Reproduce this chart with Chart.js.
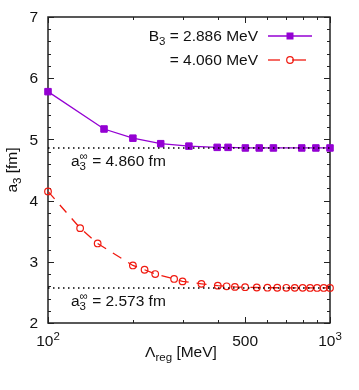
<!DOCTYPE html>
<html>
<head>
<meta charset="utf-8">
<script src="https://cdn.jsdelivr.net/npm/chart.js@4/dist/chart.umd.min.js"></script>
<style>
html, body { margin: 0; padding: 0; background: #fff; }
#wrap { width: 359px; height: 390px; }
</style>
</head>
<body>
<div id="wrap"><canvas id="chart" width="359" height="390"></canvas></div>
<script>
// ---- data ----
const lambdaA = [100, 158, 200, 251, 316, 398, 435, 501, 561, 630, 794, 891, 1000];
const a3A     = [5.78, 5.17, 5.02, 4.93, 4.89, 4.87, 4.87, 4.86, 4.86, 4.86, 4.86, 4.86, 4.86];
const lambdaB = [100, 130, 150, 200, 220, 240, 280, 300, 350, 400, 430, 460, 500,
                 550, 600, 650, 700, 750, 800, 850, 900, 950, 1000];
const a3B     = [4.15, 3.55, 3.30, 2.94, 2.87, 2.80, 2.72, 2.68, 2.64, 2.61, 2.60, 2.59, 2.585,
                 2.58, 2.577, 2.576, 2.575, 2.574, 2.574, 2.573, 2.573, 2.573, 2.573];
const a3InfA = 4.860;
const a3InfB = 2.573;
const binding = ['2.886', '4.060'];

// axis ticks
const yTicks = [2, 3, 4, 5, 6, 7];
const yMinorStep = 0.2;
const xMajor = [100, 500, 1000];
const xMinor = [200, 300, 400, 600, 700, 800, 900];
const xLabels = [['10', '2'], ['500', ''], ['10', '3']];

const PURPLE = '#9400d3';
const RED = '#f01a10';
const BIG = 15.5;
const SMALL = 11.5;
const font = sz => sz + 'px "Liberation Sans", Arial, sans-serif';

const toXY = (xs, ys) => xs.map((x, i) => ({ x: x, y: ys[i] }));

// =======================
// text helpers (sub/superscripts)
// =======================
function richWidth(ctx, parts) {
    let w = 0;
    parts.forEach(p => {
        if (p.t !== undefined) {
            ctx.font = font(BIG);
            w += ctx.measureText(p.t).width;
        } else {
            ctx.font = font(SMALL);
            w += Math.max(p.sub ? ctx.measureText(p.sub).width : 0, p.sup ? ctx.measureText(p.sup).width : 0);
        }
    });
    return w;
}

function drawRich(ctx, parts, x, y, align) {
    const w = richWidth(ctx, parts);
    let cx = align === 'center' ? x - w / 2 : align === 'right' ? x - w : x;
    ctx.textAlign = 'left';
    ctx.textBaseline = 'alphabetic';
    parts.forEach(p => {
        if (p.t !== undefined) {
            ctx.font = font(BIG);
            ctx.fillText(p.t, cx, y);
            cx += ctx.measureText(p.t).width;
        } else {
            ctx.font = font(SMALL);
            let w2 = 0;
            if (p.sub) { ctx.fillText(p.sub, cx, y + 4); w2 = ctx.measureText(p.sub).width; }
            if (p.sup) { ctx.fillText(p.sup, cx, y - 6); w2 = Math.max(w2, ctx.measureText(p.sup).width); }
            cx += w2;
        }
    });
}

function seg(ctx, x1, y1, x2, y2) {
    ctx.beginPath();
    ctx.moveTo(x1, y1);
    ctx.lineTo(x2, y2);
    ctx.stroke();
}

// =======================
// frame, ticks, labels, legend
// =======================
const plotDecor = {
    id: 'plotDecor',
    beforeDatasetsDraw(chart) {
        const { ctx, chartArea: a, scales: { x, y } } = chart;
        ctx.save();
        ctx.strokeStyle = '#222';
        ctx.lineWidth = 1;
        for (let v = yTicks[0]; v <= yTicks[yTicks.length - 1] + 1e-6; v += yMinorStep) {
            const py = Math.round(y.getPixelForValue(v)) + 0.5;
            const len = Math.abs(v - Math.round(v)) < 1e-6 ? 6 : 3;
            seg(ctx, a.left, py, a.left + len, py);
            seg(ctx, a.right, py, a.right - len, py);
        }
        xMajor.concat(xMinor).forEach(v => {
            const px = Math.round(x.getPixelForValue(v)) + 0.5;
            const len = xMajor.includes(v) ? 6 : 3;
            seg(ctx, px, a.bottom, px, a.bottom - len);
            seg(ctx, px, a.top, px, a.top + len);
        });
        ctx.lineWidth = 1.5;
        ctx.strokeRect(a.left, a.top, a.right - a.left, a.bottom - a.top);
        ctx.restore();
    },
    afterDraw(chart) {
        const { ctx, chartArea: a, scales: { x, y } } = chart;
        ctx.save();
        ctx.fillStyle = '#111';

        // y tick labels
        ctx.font = font(BIG);
        ctx.textAlign = 'right';
        ctx.textBaseline = 'middle';
        yTicks.forEach(v => ctx.fillText(String(v), a.left - 10, y.getPixelForValue(v) + 1));

        // x tick labels
        xLabels.forEach((lab, i) => {
            const parts = [{ t: lab[0] }];
            if (lab[1]) parts.push({ sup: lab[1] });
            drawRich(ctx, parts, x.getPixelForValue(xMajor[i]), a.bottom + 23, 'center');
        });

        // axis titles
        drawRich(ctx, [{ t: '\u039B' }, { sub: 'reg' }, { t: ' [MeV]' }], 181, 357, 'center');
        ctx.save();
        ctx.translate(17, (a.top + a.bottom) / 2);
        ctx.rotate(-Math.PI / 2);
        drawRich(ctx, [{ t: 'a' }, { sub: '3' }, { t: ' [fm]' }], 0, 0, 'center');
        ctx.restore();

        // asymptote labels
        [a3InfA, a3InfB].forEach(v => {
            drawRich(ctx, [{ t: 'a' }, { sub: '3', sup: '\u221E' }, { t: ' = ' + v.toFixed(3) + ' fm' }],
                71, y.getPixelForValue(v) + 18, 'left');
        });

        // legend
        const lx1 = 268, lx2 = 312, lm = 290;
        drawRich(ctx, [{ t: 'B' }, { sub: '3' }, { t: ' = ' + binding[0] + ' MeV' }], 258, 41, 'right');
        drawRich(ctx, [{ t: '= ' + binding[1] + ' MeV' }], 258, 65, 'right');

        ctx.strokeStyle = PURPLE;
        ctx.lineWidth = 1.3;
        seg(ctx, lx1, 36, lx2, 36);
        ctx.fillStyle = PURPLE;
        ctx.fillRect(lm - 3.5, 36 - 3.5, 7, 7);

        ctx.strokeStyle = RED;
        seg(ctx, lx1, 60, lx1 + 12, 60);
        seg(ctx, lm + 2, 60, lx2 - 6, 60);
        ctx.lineWidth = 1.2;
        ctx.beginPath();
        ctx.arc(lm, 60, 3.3, 0, Math.PI * 2);
        ctx.stroke();
        ctx.restore();
    }
};

// =======================
// chart
// =======================
new Chart(document.getElementById('chart').getContext('2d'), {
    type: 'line',
    data: {
        datasets: [
            {
                label: 'a3 inf A',
                data: toXY([100, 1000], [a3InfA, a3InfA]),
                borderColor: '#000',
                borderWidth: 1.4,
                borderDash: [1.5, 3.5],
                pointRadius: 0,
                order: 0
            },
            {
                label: 'a3 inf B',
                data: toXY([100, 1000], [a3InfB, a3InfB]),
                borderColor: '#000',
                borderWidth: 1.4,
                borderDash: [1.5, 3.5],
                pointRadius: 0,
                order: 0
            },
            {
                label: 'B3 = ' + binding[0] + ' MeV',
                data: toXY(lambdaA, a3A),
                borderColor: PURPLE,
                backgroundColor: PURPLE,
                pointBackgroundColor: PURPLE,
                borderWidth: 1.3,
                pointStyle: 'rect',
                pointRadius: 4.6,
                pointBorderWidth: 1,
                order: 1
            },
            {
                label: 'B3 = ' + binding[1] + ' MeV',
                data: toXY(lambdaB, a3B),
                borderColor: RED,
                backgroundColor: 'rgba(0,0,0,0)',
                pointBackgroundColor: 'rgba(0,0,0,0)',
                borderWidth: 1.3,
                borderDash: [10, 8],
                pointStyle: 'circle',
                pointRadius: 3.3,
                pointBorderWidth: 1.2,
                order: 1
            }
        ].map(ds => Object.assign(ds, { clip: false, tension: 0, fill: false }))
    },
    options: {
        responsive: false,
        animation: false,
        layout: { padding: { left: 48, right: 29, top: 17, bottom: 67 } },
        plugins: {
            legend: { display: false },
            tooltip: { enabled: false }
        },
        scales: {
            x: { type: 'logarithmic', min: 100, max: 1000, display: false },
            y: { type: 'linear', min: 2, max: 7, display: false }
        }
    },
    plugins: [plotDecor]
});
</script>
</body>
</html>
